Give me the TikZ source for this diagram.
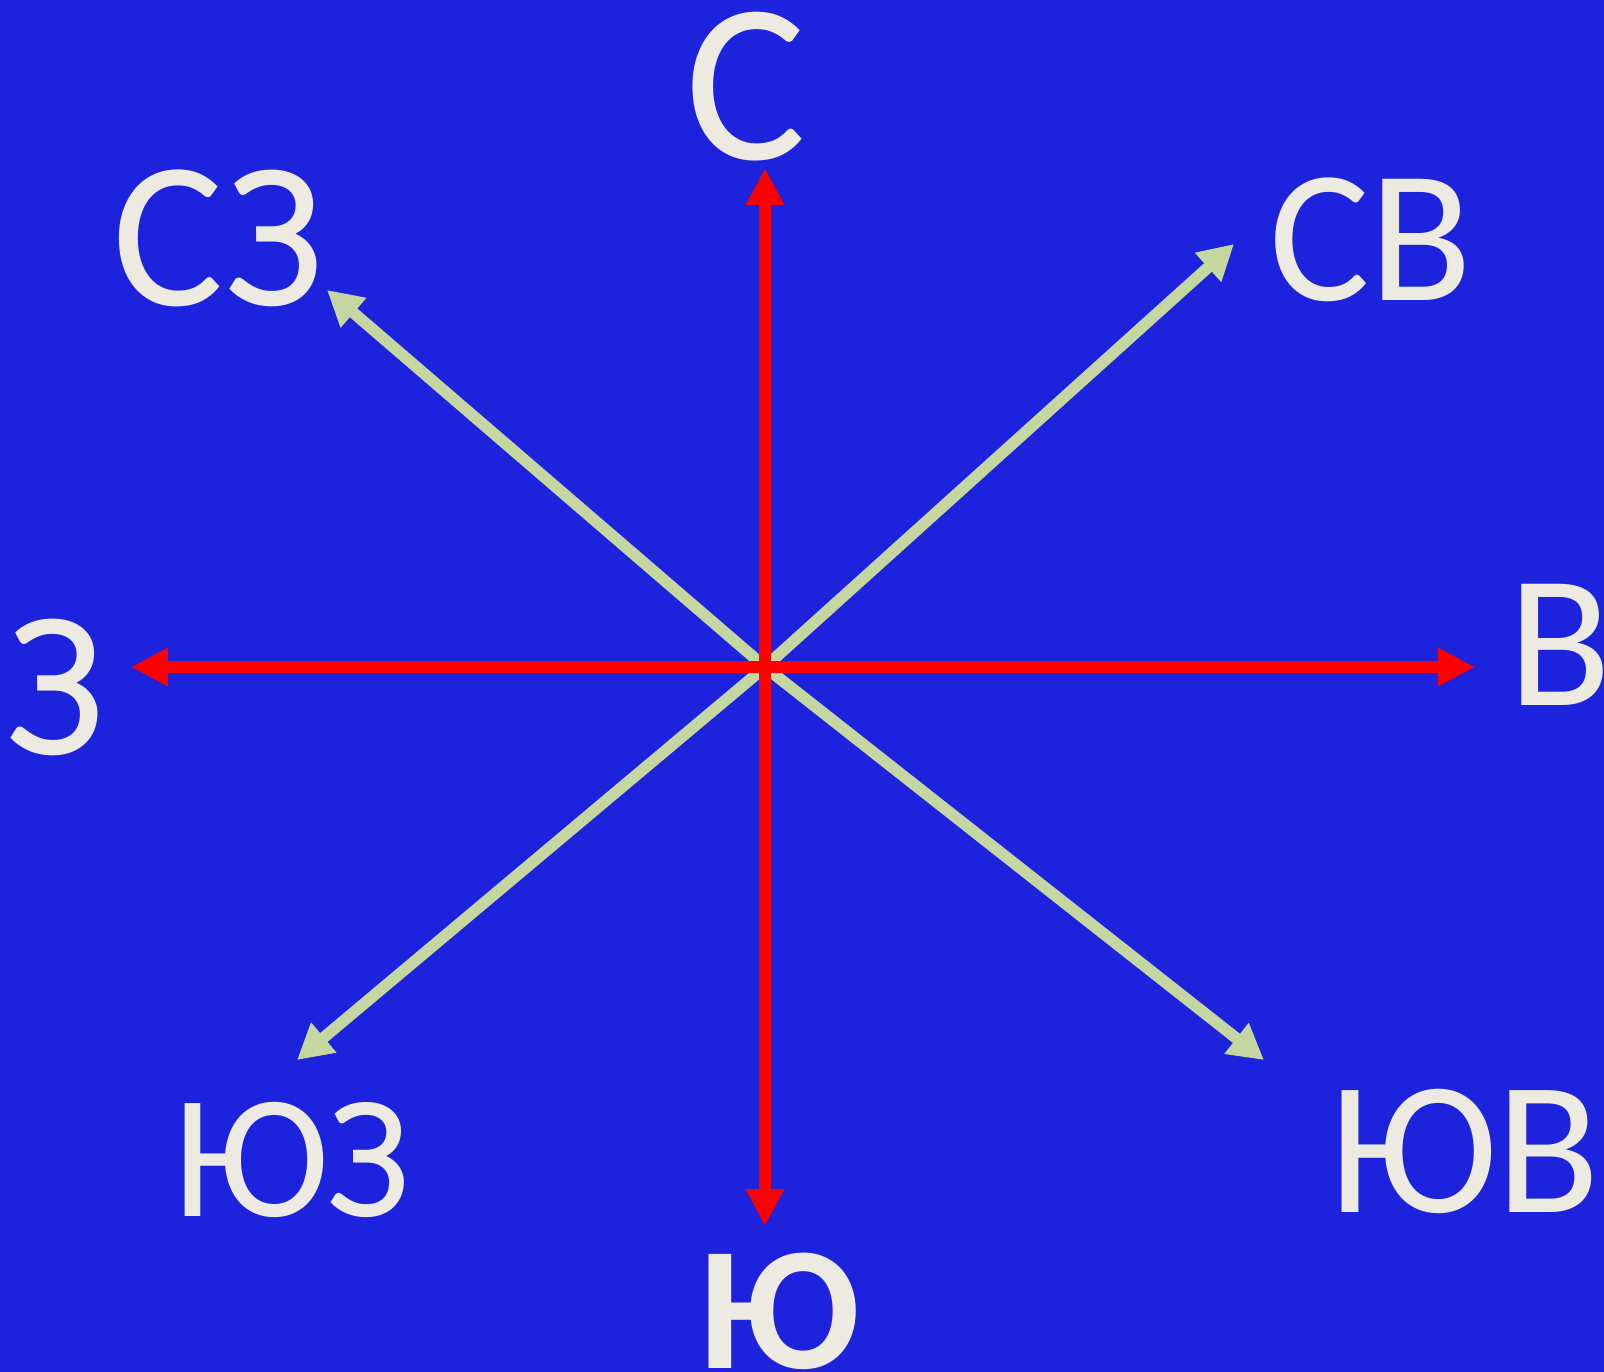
\documentclass[tikz,border=0pt]{standalone}
\usepackage{fontspec}
\setmainfont{Carlito}
\usetikzlibrary{arrows.meta}
\definecolor{bg}{RGB}{29,34,220}
\definecolor{txt}{RGB}{237,235,225}
\definecolor{grn}{RGB}{197,214,160}
\definecolor{rd}{RGB}{255,0,0}
\tikzset{
  redarr/.style={draw=rd,line width=12pt,-{Triangle[length=37pt,width=36pt]}},
  grnarr/.style={draw=grn,line width=11.5pt,-{Triangle[length=35pt,width=37pt]}},
  lbl/.style={text=txt,inner sep=0pt,anchor=center},
}
\newcommand{\fsz}[1]{\fontsize{#1}{#1}\selectfont}
\begin{document}
\begin{tikzpicture}[x=1pt,y=-1pt]
\fill[bg] (0,0) rectangle (1604,1372);
\useasboundingbox (0,0) rectangle (1604,1372);
\coordinate (c) at (765,667);
\coordinate (tn) at (765,168);
\coordinate (ts) at (765,1226);
\coordinate (tw) at (131,667);
\coordinate (te) at (1475,667);
\coordinate (tnw) at (327,290);
\coordinate (tne) at (1234,244);
\coordinate (tsw) at (297,1060);
\coordinate (tse) at (1264,1060);
\draw[grnarr] (c) -- (tnw);
\draw[grnarr] (c) -- (tne);
\draw[grnarr] (c) -- (tsw);
\draw[grnarr] (c) -- (tse);
\draw[redarr] (c) -- (tn);
\draw[redarr] (c) -- (ts);
\draw[redarr] (c) -- (tw);
\draw[redarr] (c) -- (te);
\node[lbl,font=\fsz{227}] (n) at (746,87) {С};
\node[lbl,font=\fsz{209}] (nw) at (218,238) {СЗ};
\node[lbl,font=\fsz{189}] (ne) at (1371,240) {СВ};
\node[lbl,font=\fsz{209}] (w) at (55,687) {З};
\node[lbl,font=\fsz{189}] (e) at (1560,645) {В};
\node[lbl,font=\fsz{176}] (sw) at (292,1160) {ЮЗ};
\node[lbl,font=\fsz{190}] (se) at (1465,1151) {ЮВ};
\node[lbl,font=\bfseries\fsz{176}] (s) at (779,1311) {Ю};
\end{tikzpicture}
\end{document}
